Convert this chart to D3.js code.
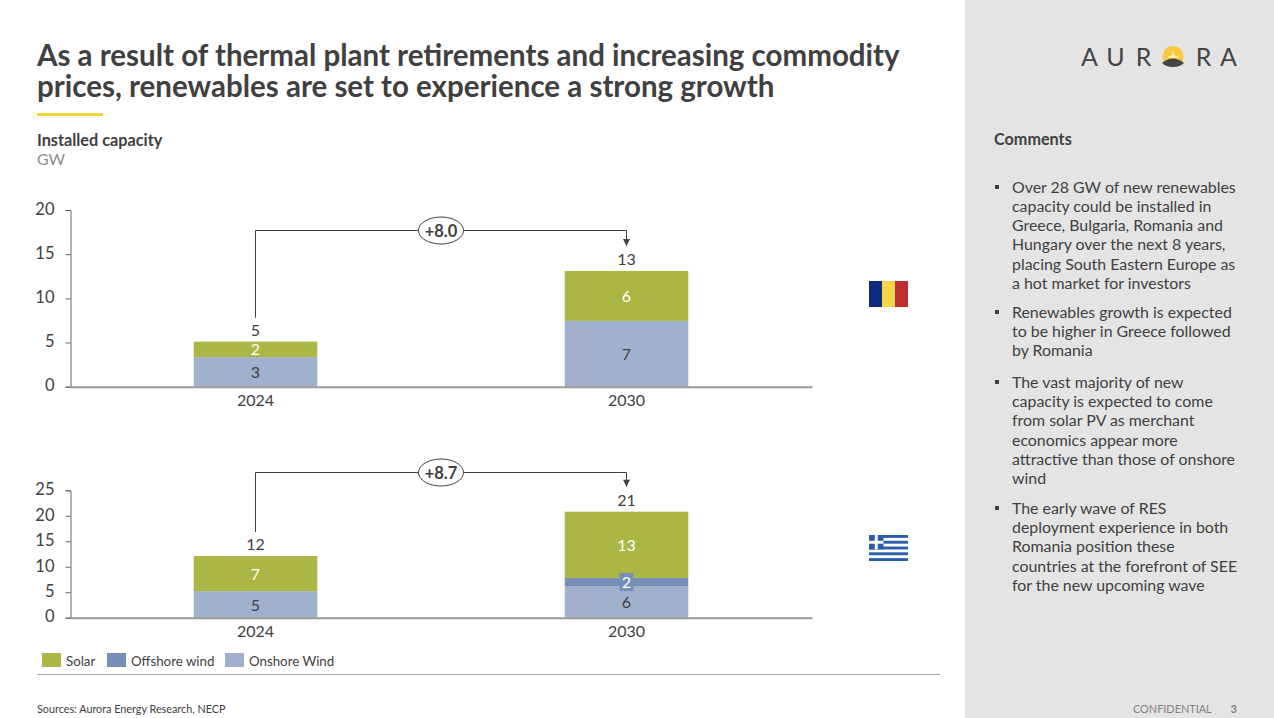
<!DOCTYPE html>
<html>
<head>
<meta charset="utf-8">
<script src="https://cdn.jsdelivr.net/npm/d3@7"></script>
<style>
  html, body { margin: 0; padding: 0; background: #fff; overflow: hidden; }
  svg { display: block; font-family: Lato, sans-serif; }
  text { fill: #404040; }
</style>
</head>
<body>
<svg id="slide" width="1274" height="718"></svg>
<script>
// Installed capacity, GW
const years = ["2024", "2030"];
const seriesNames = ["Solar", "Offshore wind", "Onshore Wind"];
const seriesColors = ["#abb645", "#778eb6", "#a1b0cc"];

const romaniaOnshore = [3.35, 7.45];
const romaniaOffshore = [0, 0];
const romaniaSolar = [1.75, 5.65];
const romaniaTicks = [0, 5, 10, 15, 20];

const greeceOnshore = [5.2, 6.2];
const greeceOffshore = [0, 1.6];
const greeceSolar = [6.9, 13.0];
const greeceTicks = [0, 5, 10, 15, 20, 25];

const titleLines = [
  "As a result of thermal plant retirements and increasing commodity",
  "prices, renewables are set to experience a strong growth"
];
const comments = [
  ["Over 28 GW of new renewables", "capacity could be installed in", "Greece, Bulgaria, Romania and", "Hungary over the next 8 years,", "placing South Eastern Europe as", "a hot market for investors"],
  ["Renewables growth is expected", "to be higher in Greece followed", "by Romania"],
  ["The vast majority of new", "capacity is expected to come", "from solar PV as merchant", "economics appear more", "attractive than those of onshore", "wind"],
  ["The early wave of RES", "deployment experience in both", "Romania position these", "countries at the forefront of SEE", "for the new upcoming wave"]
];

const svg = d3.select("#slide");

// Side panel and slide furniture
svg.append("rect").attr("x", 965).attr("y", 0).attr("width", 309).attr("height", 718).attr("fill", "#e4e4e4");

svg.append("g").selectAll("text").data(titleLines).join("text")
  .attr("x", 37).attr("y", (d, i) => 65.5 + i * 31.7)
  .attr("font-size", 29.5).attr("font-weight", 700).text(d => d);
svg.append("rect").attr("x", 37).attr("y", 113).attr("width", 66).attr("height", 3).attr("fill", "#f7d23e");

svg.append("text").attr("x", 37).attr("y", 146).attr("font-size", 16.25).attr("font-weight", 700).text("Installed capacity");
svg.append("text").attr("x", 37).attr("y", 165).attr("font-size", 16).style("fill", "#8c8c8c").text("GW");

const fmtValue = d3.format(".0f");
const fmtDelta = d3.format("+.1f");

const x = d3.scaleBand().domain(years).range([70, 812]).paddingInner(0.667).paddingOuter(0.3335);

function drawPanel(cfg) {
  const y = d3.scaleLinear().domain([0, d3.max(cfg.ticks)]).range(cfg.yRange);
  const g = svg.append("g");

  const rows = years.map((year, i) => ({
    year, onshore: cfg.onshore[i], offshore: cfg.offshore[i], solar: cfg.solar[i]
  }));
  const stacked = d3.stack().keys(["onshore", "offshore", "solar"])(rows);
  const colorOf = { onshore: seriesColors[2], offshore: seriesColors[1], solar: seriesColors[0] };

  // Stacked bars
  g.selectAll("g.layer").data(stacked).join("g").attr("class", "layer")
    .attr("fill", d => colorOf[d.key])
    .selectAll("rect").data(d => d).join("rect")
    .attr("x", d => x(d.data.year))
    .attr("width", x.bandwidth())
    .attr("y", d => y(d[1]))
    .attr("height", d => y(d[0]) - y(d[1]));

  // Axes
  const yAxis = d3.axisLeft(y).tickValues(cfg.ticks).tickSize(5).tickPadding(11).tickFormat(d3.format("d"));
  const yG = g.append("g").attr("transform", "translate(70.5,0)").call(yAxis);
  yG.selectAll("path,line").attr("stroke", "#666").attr("stroke-width", 1);
  yG.selectAll("text").attr("font-size", 16.5).attr("font-family", "Lato, sans-serif").style("fill", "#404040")
    .attr("y", -1);

  const xAxis = d3.axisBottom(x).tickSize(0).tickPadding(8);
  const xG = g.append("g").attr("transform", `translate(0,${y(0)})`).call(xAxis);
  xG.select("path").attr("stroke", "#999").attr("stroke-width", 2);
  xG.selectAll("text").attr("font-size", 16).attr("font-family", "Lato, sans-serif").style("fill", "#404040");

  // Segment value labels
  stacked.forEach(layer => {
    layer.forEach(d => {
      const v = d[1] - d[0];
      if (v <= 0) return;
      const cx = x(d.data.year) + x.bandwidth() / 2;
      const cy = (y(d[0]) + y(d[1])) / 2;
      if (layer.key === "offshore") {
        g.append("rect").attr("x", cx - 7).attr("y", cy - 9).attr("width", 14).attr("height", 18)
          .attr("fill", colorOf.offshore);
      }
      g.append("text").attr("x", cx).attr("y", cy + 0.5).attr("dy", "0.35em")
        .attr("text-anchor", "middle").attr("font-size", 16)
        .style("fill", layer.key === "onshore" ? "#404040" : "#ffffff")
        .text(fmtValue(v));
    });
  });

  // Totals above each bar
  const totals = rows.map(r => r.onshore + r.offshore + r.solar);
  g.selectAll("text.total").data(rows).join("text").attr("class", "total")
    .attr("x", d => x(d.year) + x.bandwidth() / 2)
    .attr("y", (d, i) => y(totals[i]) - 6)
    .attr("text-anchor", "middle").attr("font-size", 16)
    .text((d, i) => fmtValue(totals[i]));

  // Growth bracket with its arrowhead and oval badge
  const x0 = Math.floor(x(years[0]) + x.bandwidth() / 2) + 0.5;
  const x1 = Math.floor(x(years[1]) + x.bandwidth() / 2) + 0.5;
  const by = cfg.bracketY;
  const tip = y(totals[1]) - 25;
  g.append("path")
    .attr("d", `M${x0},${y(totals[0]) - 24}V${by}H${x1}V${tip}`)
    .attr("fill", "none").attr("stroke", "#404040").attr("stroke-width", 1);
  g.append("path")
    .attr("d", `M${x1 - 3.5},${tip - 7}H${x1 + 3.5}L${x1},${tip}Z`)
    .attr("fill", "#404040");
  g.append("ellipse").attr("cx", 441).attr("cy", by).attr("rx", 22.5).attr("ry", 13.5)
    .attr("fill", "#fff").attr("stroke", "#404040").attr("stroke-width", 1);
  g.append("text").attr("x", 441).attr("y", by + 0.5).attr("dy", "0.35em")
    .attr("text-anchor", "middle").attr("font-size", 16.5).attr("font-weight", 700)
    .text(fmtDelta(totals[1] - totals[0]));
}

drawPanel({
  onshore: romaniaOnshore, offshore: romaniaOffshore, solar: romaniaSolar,
  ticks: romaniaTicks, yRange: [386.7, 210], bracketY: 230.5
});
drawPanel({
  onshore: greeceOnshore, offshore: greeceOffshore, solar: greeceSolar,
  ticks: greeceTicks, yRange: [617.7, 490.3], bracketY: 472.5
});

// Legend
const legendX = [42, 107, 225];
const legend = svg.append("g").selectAll("g").data(seriesNames).join("g")
  .attr("transform", (d, i) => `translate(${legendX[i]},653)`);
legend.append("rect").attr("width", 19).attr("height", 14).attr("fill", (d, i) => seriesColors[i]);
legend.append("text").attr("x", 24).attr("y", 13).attr("font-size", 13.3).text(d => d);

// Footer
svg.append("line").attr("x1", 37).attr("x2", 940).attr("y1", 674.5).attr("y2", 674.5).attr("stroke", "#a6a6a6");
svg.append("text").attr("x", 37).attr("y", 713).attr("font-size", 10.8).text("Sources: Aurora Energy Research, NECP");
svg.append("text").attr("x", 1133).attr("y", 713).attr("font-size", 10.9).style("fill", "#808080").text("CONFIDENTIAL");
svg.append("text").attr("x", 1237).attr("y", 713).attr("text-anchor", "end").attr("font-size", 11).attr("font-weight", 700).style("fill", "#808080").text("3");

// Country flags
const roStripes = ["#0d2b7a", "#f5d34a", "#bf2e33"];
svg.append("g").selectAll("rect").data(roStripes).join("rect")
  .attr("x", (d, i) => 869 + i * 13).attr("y", 281).attr("width", 13).attr("height", 26).attr("fill", d => d);

const grBlue = "#2a5daa";
const gr = svg.append("g").attr("transform", "translate(869,535)");
gr.append("rect").attr("width", 39).attr("height", 26).attr("fill", "#fff");
gr.selectAll("rect.stripe").data(d3.range(0, 9, 2)).join("rect").attr("class", "stripe")
  .attr("y", d => d * 26 / 9).attr("width", 39).attr("height", 26 / 9).attr("fill", grBlue);
gr.append("rect").attr("width", 14.5).attr("height", 14.5).attr("fill", grBlue);
gr.append("rect").attr("x", 5.8).attr("width", 2.9).attr("height", 14.5).attr("fill", "#fff");
gr.append("rect").attr("y", 5.8).attr("width", 14.5).attr("height", 2.9).attr("fill", "#fff");

// Side panel comments
svg.append("text").attr("x", 994).attr("y", 145).attr("font-size", 16.2).attr("font-weight", 700).text("Comments");
const commentTops = [192.7, 318, 388, 514];
comments.forEach((lines, k) => {
  svg.append("rect").attr("x", 995).attr("y", Math.round(commentTops[k]) - 8).attr("width", 4).attr("height", 4).attr("fill", "#404040");
  svg.append("g").selectAll("text").data(lines).join("text")
    .attr("x", 1012).attr("y", (d, i) => commentTops[k] + i * 19.2)
    .attr("font-size", 15.9).text(d => d);
});

// Wordmark
const logo = svg.append("g");
const wordmark = [["A", 1089.5], ["U", 1115.5], ["R", 1143.5], ["R", 1203.5], ["A", 1228.5]];
logo.selectAll("text").data(wordmark).join("text")
  .attr("x", d => d[1]).attr("y", 65.5).attr("text-anchor", "middle")
  .attr("font-size", 25).style("fill", "#444").text(d => d[0]);
logo.append("circle").attr("cx", 1173).attr("cy", 56.5).attr("r", 10.5).attr("fill", "#f7c93e");
logo.append("path").attr("d", "M1173,50L1174,55L1179,57L1173,58L1167,57L1172,55Z").attr("fill", "#fdf3c8");
logo.append("path").attr("d", "M1162,63Q1173,54 1184,63Q1180,67 1173,67Q1166,67 1162,63Z").attr("fill", "#444");
</script>
</body>
</html>
